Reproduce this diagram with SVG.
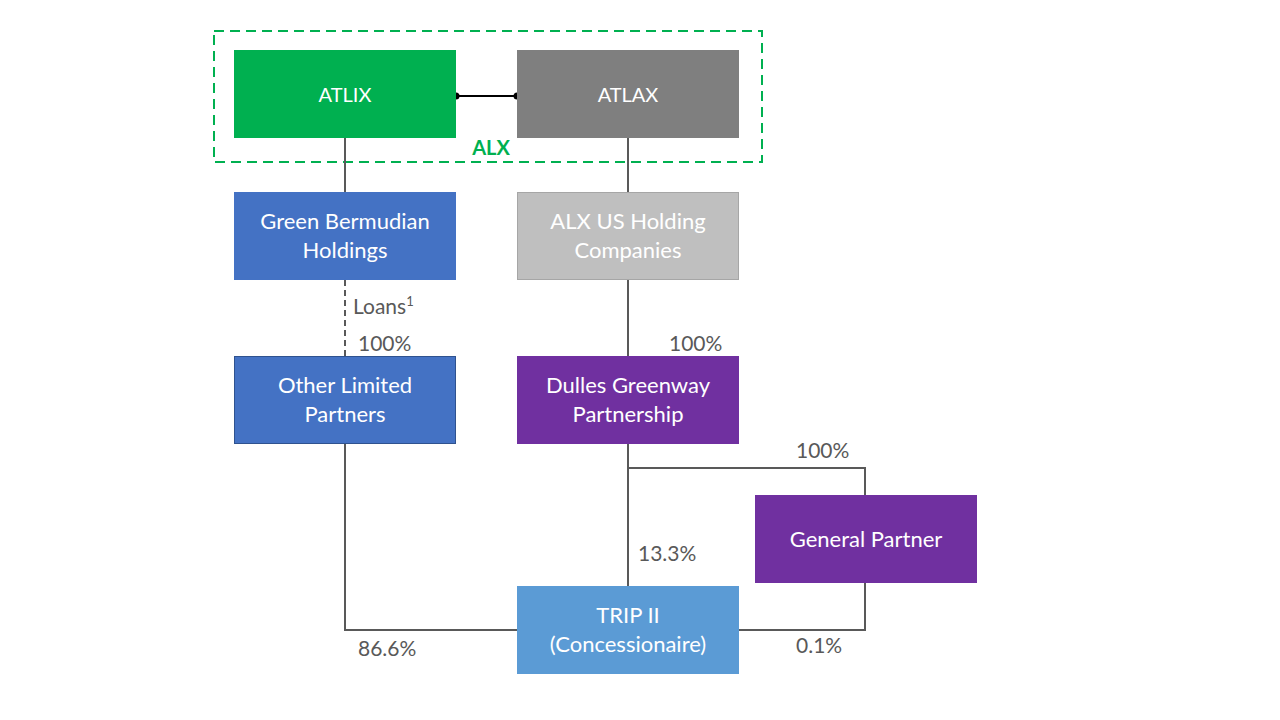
<svg xmlns="http://www.w3.org/2000/svg" width="1280" height="720" viewBox="0 0 1280 720">
<style>
.box text{font-family:Lato,"Open Sans","Liberation Sans",sans-serif;font-size:22px;fill:#ffffff;text-anchor:middle}
.box text.sm{font-size:20px}
.lbl{font-family:Lato,"Open Sans","Liberation Sans",sans-serif;font-size:21px;fill:#595959}
.ln{stroke:#595959;stroke-width:2;fill:none}
</style>
<rect width="1280" height="720" fill="#ffffff"/>
<rect x="214" y="31" width="548" height="131" fill="none" stroke="#00B050" stroke-width="2" stroke-dasharray="10,6"/>
<text x="491" y="155" font-family="Lato,'Open Sans','Liberation Sans',sans-serif" font-size="20" font-weight="bold" fill="#00B050" text-anchor="middle">ALX</text>
<g id="connectors">
<line x1="456" y1="96" x2="517" y2="96" stroke="#000" stroke-width="2"/>
<circle cx="456" cy="96" r="3.5" fill="#000"/>
<circle cx="517" cy="96" r="3.5" fill="#000"/>
<line class="ln" x1="345" y1="138" x2="345" y2="192"/>
<line class="ln" x1="628" y1="138" x2="628" y2="192"/>
<line class="ln" x1="345" y1="280" x2="345" y2="356" stroke-dasharray="6,4"/>
<line class="ln" x1="628" y1="280" x2="628" y2="356"/>
<line class="ln" x1="628" y1="444" x2="628" y2="586"/>
<polyline class="ln" points="628,468 865,468 865,495"/>
<polyline class="ln" points="345,444 345,630 517,630"/>
<polyline class="ln" points="865,583 865,630 739,630"/>
</g>
<g id="atlix" class="box"><rect x="234" y="50" width="222" height="88" fill="#00B050"/><text class="sm" x="345" y="102">ATLIX</text></g>
<g id="atlax" class="box"><rect x="517" y="50" width="222" height="88" fill="#7F7F7F"/><text class="sm" x="628" y="102">ATLAX</text></g>
<g id="gbh" class="box"><rect x="234" y="192" width="222" height="88" fill="#4472C4"/><text x="345" y="229">Green Bermudian</text><text x="345" y="258">Holdings</text></g>
<g id="alxus" class="box"><rect x="517.5" y="192.5" width="221" height="87" fill="#BFBFBF" stroke="#A6A6A6" stroke-width="1"/><text x="628" y="229">ALX US Holding</text><text x="628" y="258">Companies</text></g>
<g id="olp" class="box"><rect x="234.5" y="356.5" width="221" height="87" fill="#4472C4" stroke="#2F528F" stroke-width="1"/><text x="345" y="393">Other Limited</text><text x="345" y="422">Partners</text></g>
<g id="dgp" class="box"><rect x="517" y="356" width="222" height="88" fill="#7030A0"/><text x="628" y="393">Dulles Greenway</text><text x="628" y="422">Partnership</text></g>
<g id="gp" class="box"><rect x="755" y="495" width="222" height="88" fill="#7030A0"/><text x="866" y="547">General Partner</text></g>
<g id="trip" class="box"><rect x="517" y="586" width="222" height="88" fill="#5B9BD5"/><text x="628" y="623">TRIP II</text><text x="628" y="652">(Concessionaire)</text></g>
<g id="labels">
<text class="lbl" x="353" y="314">Loans<tspan font-size="13" dy="-8">1</tspan></text>
<text class="lbl" x="358" y="351">100%</text>
<text class="lbl" x="669" y="351">100%</text>
<text class="lbl" x="796" y="458">100%</text>
<text class="lbl" x="638" y="561">13.3%</text>
<text class="lbl" x="358" y="656">86.6%</text>
<text class="lbl" x="796" y="653">0.1%</text>
</g>
</svg>
